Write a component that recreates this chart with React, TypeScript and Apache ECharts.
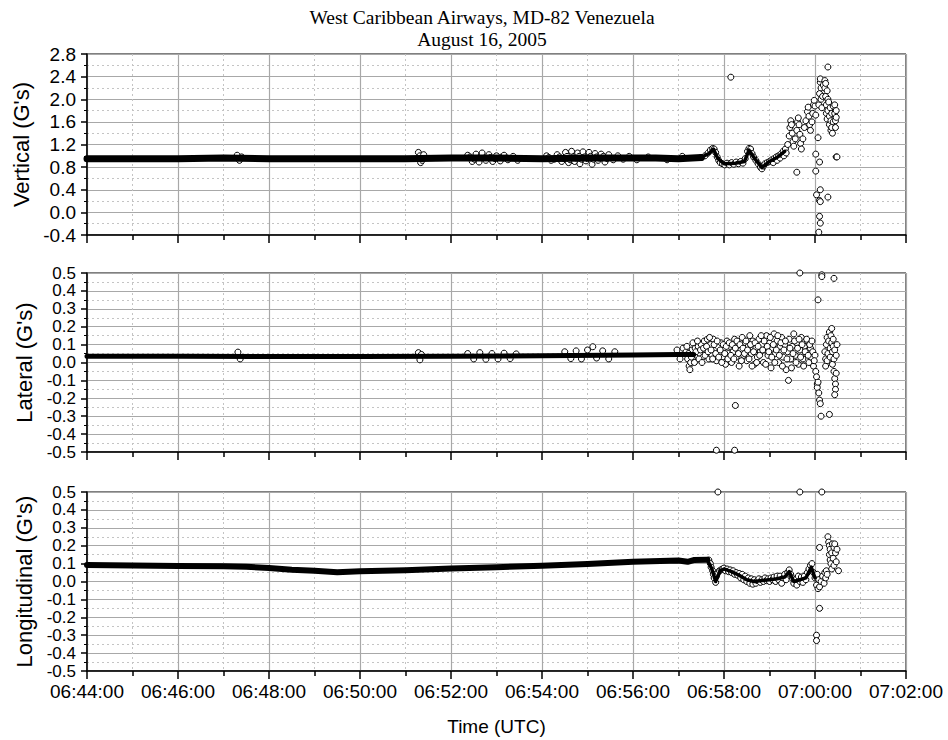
import React, { useEffect, useRef } from "react";
import * as echarts from "echarts";

// ---------- axis definitions ----------
const TIME_TICKS = ["06:44:00", "06:46:00", "06:48:00", "06:50:00", "06:52:00", "06:54:00", "06:56:00", "06:58:00", "07:00:00", "07:02:00"];
const VERTICAL_TICKS = [-0.4, 0.0, 0.4, 0.8, 1.2, 1.6, 2.0, 2.4, 2.8];
const LATERAL_TICKS = [-0.5, -0.4, -0.3, -0.2, -0.1, 0.0, 0.1, 0.2, 0.3, 0.4, 0.5];
const LONGITUDINAL_TICKS = [-0.5, -0.4, -0.3, -0.2, -0.1, 0.0, 0.1, 0.2, 0.3, 0.4, 0.5];

const TITLE_LINES = ["West Caribbean Airways, MD-82 Venezuela", "August 16, 2005"];
const PANEL_NAMES = ["Vertical (G's)", "Lateral (G's)", "Longitudinal (G's)"];
const X_NAME = "Time (UTC)";

type P = [string, number];

// ---------- Vertical ----------
const verticalBand: P[] = [
  ["06:44:00", 0.95], ["06:45:00", 0.95], ["06:46:00", 0.95], ["06:47:00", 0.96], ["06:48:00", 0.95],
  ["06:49:00", 0.95], ["06:50:00", 0.95], ["06:51:00", 0.95], ["06:52:00", 0.96], ["06:53:00", 0.96],
  ["06:54:00", 0.95], ["06:55:00", 0.96], ["06:56:00", 0.96], ["06:56:30", 0.96], ["06:57:00", 0.95],
  ["06:57:30", 0.97],
];
const verticalTrail: P[] = [
  ["06:57:30", 0.97], ["06:57:40", 1.04], ["06:57:46", 1.12], ["06:57:52", 0.95], ["06:58:00", 0.86],
  ["06:58:15", 0.87], ["06:58:27", 0.9], ["06:58:33", 1.1], ["06:58:40", 0.96], ["06:58:50", 0.79],
  ["06:59:00", 0.9], ["06:59:10", 0.97], ["06:59:20", 1.08],
];
const verticalPoints: P[] = [
  ["06:47:18", 1.01], ["06:47:21", 0.92], ["06:47:24", 0.98],
  ["06:51:17", 1.06], ["06:51:19", 1.0], ["06:51:20", 0.88], ["06:51:22", 0.92], ["06:51:24", 1.02],
  ["06:52:22", 1.01], ["06:52:25", 0.98], ["06:52:28", 0.9], ["06:52:31", 0.94], ["06:52:33", 1.03], ["06:52:37", 0.89],
  ["06:52:39", 0.99], ["06:52:41", 1.05], ["06:52:44", 0.96], ["06:52:46", 0.92], ["06:52:50", 1.02], ["06:52:52", 0.97],
  ["06:52:55", 0.9], ["06:52:58", 0.95], ["06:53:00", 1.0], ["06:53:05", 0.91], ["06:53:07", 0.98], ["06:53:10", 1.01],
  ["06:53:13", 0.96], ["06:53:15", 0.93], ["06:53:22", 0.99], ["06:53:28", 0.92],
  ["06:54:06", 1.0], ["06:54:09", 0.97], ["06:54:12", 0.92], ["06:54:16", 0.94], ["06:54:20", 1.02], ["06:54:23", 0.98],
  ["06:54:26", 0.9], ["06:54:29", 0.95], ["06:54:31", 1.06], ["06:54:33", 0.99], ["06:54:35", 0.88], ["06:54:37", 0.93],
  ["06:54:39", 1.08], ["06:54:41", 0.98], ["06:54:43", 0.9], ["06:54:45", 0.96], ["06:54:47", 1.05], ["06:54:49", 0.99],
  ["06:54:50", 0.86], ["06:54:52", 0.94], ["06:54:54", 1.07], ["06:54:56", 0.98], ["06:54:58", 0.91], ["06:55:00", 0.95],
  ["06:55:02", 1.06], ["06:55:04", 0.99], ["06:55:06", 0.85], ["06:55:08", 0.94], ["06:55:10", 1.04], ["06:55:12", 0.98],
  ["06:55:14", 0.92], ["06:55:16", 0.96], ["06:55:18", 1.03], ["06:55:21", 0.99], ["06:55:23", 0.89], ["06:55:26", 0.95],
  ["06:55:28", 1.02], ["06:55:34", 0.93], ["06:55:40", 1.0], ["06:55:47", 0.94], ["06:55:55", 0.99], ["06:56:05", 0.93],
  ["06:56:20", 0.98], ["06:56:45", 0.93], ["06:57:05", 0.99],
  ["06:57:30", 0.97], ["06:57:35", 1.0], ["06:57:39", 1.05], ["06:57:42", 1.1], ["06:57:45", 1.13], ["06:57:47", 1.12],
  ["06:57:49", 1.06], ["06:57:51", 0.98], ["06:57:53", 0.92], ["06:57:55", 0.88], ["06:57:58", 0.86], ["06:58:01", 0.84],
  ["06:58:04", 0.87], ["06:58:07", 0.84], ["06:58:10", 0.88], ["06:58:13", 0.85], ["06:58:16", 0.89], ["06:58:19", 0.86],
  ["06:58:22", 0.9], ["06:58:25", 0.87], ["06:58:28", 0.95], ["06:58:31", 1.08], ["06:58:33", 1.13], ["06:58:35", 1.12],
  ["06:58:37", 1.04], ["06:58:39", 0.98], ["06:58:42", 0.92], ["06:58:45", 0.86], ["06:58:48", 0.8], ["06:58:50", 0.77],
  ["06:58:52", 0.82], ["06:58:54", 0.86], ["06:58:57", 0.88], ["06:59:00", 0.9], ["06:59:03", 0.93], ["06:59:05", 0.88],
  ["06:59:06", 0.95], ["06:59:09", 0.98], ["06:59:10", 0.92], ["06:59:12", 1.0], ["06:59:14", 0.96], ["06:59:15", 1.03],
  ["06:59:18", 1.08], ["06:59:19", 1.0], ["06:59:21", 1.12], ["06:59:22", 1.05], ["06:59:24", 1.2], ["06:59:26", 1.35],
  ["06:59:27", 1.5], ["06:59:28", 1.62], ["06:59:29", 1.55], ["06:59:30", 1.4], ["06:59:31", 1.25], ["06:59:32", 1.17],
  ["06:59:34", 1.3], ["06:59:36", 1.45], ["06:59:37", 1.6], ["06:59:38", 1.67], ["06:59:39", 1.55], ["06:59:40", 1.38],
  ["06:59:41", 1.22], ["06:59:42", 1.12], ["06:59:44", 1.3], ["06:59:46", 1.5], ["06:59:48", 1.62], ["06:59:50", 1.78],
  ["06:59:51", 1.86], ["06:59:52", 1.7], ["06:59:53", 1.55], ["06:59:54", 1.45], ["06:59:56", 1.6], ["06:59:57", 1.75],
  ["06:59:58", 1.9], ["06:59:59", 1.98], ["07:00:00", 1.88], ["07:00:01", 1.72],
  ["06:58:09", 2.39], ["06:59:36", 0.71], ["07:00:01", 1.03], ["07:00:01", 0.73], ["07:00:02", 0.31], ["07:00:04", 1.32],
  ["07:00:06", 0.89], ["07:00:07", 0.4], ["07:00:06", 0.21], ["07:00:07", 0.19], ["07:00:06", -0.07], ["07:00:07", -0.19],
  ["07:00:05", -0.35], ["07:00:17", 0.27], ["07:00:17", 2.57], ["07:00:28", 0.98], ["07:00:29", 0.98],
  ["07:00:05", 1.9], ["07:00:06", 2.1], ["07:00:07", 2.3], ["07:00:07", 2.36], ["07:00:08", 2.2], ["07:00:08", 2.0],
  ["07:00:09", 1.85], ["07:00:10", 2.05], ["07:00:11", 2.25],
  ["07:00:13", 2.33], ["07:00:13", 2.2], ["07:00:14", 2.28], ["07:00:14", 2.05], ["07:00:15", 1.9], ["07:00:15", 1.75],
  ["07:00:16", 2.15], ["07:00:16", 1.65], ["07:00:17", 1.8], ["07:00:17", 2.0],
  ["07:00:18", 1.95], ["07:00:19", 1.7], ["07:00:19", 1.55], ["07:00:20", 1.85], ["07:00:21", 1.62], ["07:00:21", 1.45],
  ["07:00:22", 1.75], ["07:00:22", 1.5], ["07:00:23", 1.4], ["07:00:24", 1.6], ["07:00:24", 1.88],
  ["07:00:26", 1.9], ["07:00:26", 1.75], ["07:00:27", 1.62], ["07:00:27", 1.5], ["07:00:28", 1.8], ["07:00:28", 1.68],
];

// ---------- Lateral ----------
const lateralBand: P[] = [
  ["06:44:00", 0.035], ["06:46:00", 0.035], ["06:48:00", 0.033], ["06:50:00", 0.033], ["06:52:00", 0.035],
  ["06:54:00", 0.038], ["06:56:00", 0.042], ["06:57:00", 0.045], ["06:57:20", 0.045],
];
const lateralPoints: P[] = [
  ["06:47:19", 0.058], ["06:47:22", 0.02],
  ["06:51:17", 0.055], ["06:51:19", 0.015], ["06:51:21", 0.045],
  ["06:52:22", 0.05], ["06:52:30", 0.02], ["06:52:38", 0.055], ["06:52:46", 0.018], ["06:52:54", 0.05], ["06:53:02", 0.02],
  ["06:53:10", 0.052], ["06:53:18", 0.022], ["06:53:26", 0.048],
  ["06:54:30", 0.06], ["06:54:38", 0.022], ["06:54:45", 0.065], ["06:54:52", 0.02], ["06:55:00", 0.07], ["06:55:07", 0.088],
  ["06:55:12", 0.025], ["06:55:20", 0.065], ["06:55:28", 0.02], ["06:55:36", 0.06],
  ["06:56:58", 0.07], ["06:57:02", 0.02], ["06:57:06", 0.08], ["06:57:10", 0.06], ["06:57:12", 0.02], ["06:57:14", -0.02],
  ["06:57:15", -0.04], ["06:57:16", 0.0], ["06:57:18", 0.07], ["06:57:20", 0.03], ["06:57:22", 0.08], ["06:57:24", 0.04],
  ["06:57:26", 0.09], ["06:57:28", 0.05], ["06:57:30", 0.1], ["06:57:32", 0.03], ["06:57:34", 0.12], ["06:57:36", 0.06],
  ["06:57:38", 0.13], ["06:57:40", 0.02], ["06:57:42", 0.1], ["06:57:44", 0.04], ["06:57:46", 0.13], ["06:57:48", 0.07],
  ["06:57:50", 0.01], ["06:57:52", 0.09], ["06:57:54", 0.05], ["06:57:56", 0.11], ["06:57:58", 0.03], ["06:58:00", 0.08],
  ["06:58:02", -0.01], ["06:58:04", 0.12], ["06:58:06", 0.05], ["06:58:08", 0.09], ["06:58:10", 0.0], ["06:58:12", 0.06],
  ["06:58:14", 0.13], ["06:58:16", 0.03], ["06:58:18", 0.1], ["06:58:20", -0.02], ["06:58:22", 0.07], ["06:58:24", 0.14],
  ["06:58:26", 0.04], ["06:58:28", 0.11], ["06:58:30", 0.01], ["06:58:32", 0.09], ["06:58:34", 0.15], ["06:58:36", 0.05],
  ["06:58:38", 0.12], ["06:58:40", -0.01], ["06:58:42", 0.08], ["06:58:44", 0.03], ["06:58:46", 0.13], ["06:58:48", 0.06],
  ["06:58:50", 0.1], ["06:58:52", 0.0], ["06:58:54", 0.07], ["06:58:56", 0.15], ["06:58:58", 0.04], ["06:59:00", 0.11],
  ["06:59:02", -0.03], ["06:59:04", 0.08], ["06:59:06", 0.16], ["06:59:08", 0.05], ["06:59:10", 0.12], ["06:59:12", 0.0],
  ["06:59:14", 0.09], ["06:59:16", 0.14], ["06:59:18", 0.03], ["06:59:20", 0.1], ["06:59:22", -0.04], ["06:59:24", 0.06],
  ["06:59:25", -0.1], ["06:59:26", 0.13], ["06:59:28", 0.02], ["06:59:30", 0.09], ["06:59:32", 0.16], ["06:59:34", 0.04],
  ["06:59:36", 0.11], ["06:59:38", -0.01], ["06:59:40", 0.07], ["06:59:42", 0.14], ["06:59:44", 0.02], ["06:59:46", 0.09],
  ["06:59:48", 0.05], ["06:59:50", 0.12], ["06:59:52", 0.0], ["06:59:54", 0.08], ["06:59:55", 0.03], ["06:59:57", 0.06],
  ["06:59:58", -0.02], ["07:00:00", 0.04],
  ["06:57:11", 0.09], ["06:57:13", 0.05], ["06:57:17", 0.03], ["06:57:19", 0.11], ["06:57:21", 0.0], ["06:57:23", 0.06],
  ["06:57:25", 0.12], ["06:57:27", 0.02], ["06:57:29", 0.07], ["06:57:31", 0.0], ["06:57:33", 0.08], ["06:57:35", 0.04],
  ["06:57:37", 0.09], ["06:57:39", 0.06], ["06:57:41", 0.14], ["06:57:43", 0.07], ["06:57:45", 0.02], ["06:57:47", 0.1],
  ["06:57:49", 0.05], ["06:57:51", 0.12], ["06:57:53", 0.03], ["06:57:55", 0.07], ["06:57:57", 0.0], ["06:57:59", 0.1],
  ["06:58:01", 0.05], ["06:58:03", 0.09], ["06:58:05", 0.02], ["06:58:07", 0.11], ["06:58:09", 0.04], ["06:58:11", 0.1],
  ["06:58:13", 0.02], ["06:58:15", 0.08], ["06:58:17", 0.12], ["06:58:19", 0.05], ["06:58:21", 0.1], ["06:58:23", 0.01],
  ["06:58:25", 0.08], ["06:58:27", 0.05], ["06:58:29", 0.12], ["06:58:31", 0.07], ["06:58:33", 0.02], ["06:58:35", 0.1],
  ["06:58:37", -0.02], ["06:58:39", 0.06], ["06:58:41", 0.11], ["06:58:43", 0.0], ["06:58:45", 0.09], ["06:58:47", 0.04],
  ["06:58:49", 0.15], ["06:58:51", 0.07], ["06:58:53", 0.12], ["06:58:55", -0.01], ["06:58:57", 0.09], ["06:58:59", 0.06],
  ["06:59:01", 0.14], ["06:59:03", 0.03], ["06:59:05", 0.1], ["06:59:07", 0.0], ["06:59:09", 0.07], ["06:59:11", 0.15],
  ["06:59:13", 0.04], ["06:59:15", 0.11], ["06:59:17", -0.02], ["06:59:19", 0.07], ["06:59:21", 0.12], ["06:59:23", 0.02],
  ["06:59:27", 0.08], ["06:59:29", -0.03], ["06:59:31", 0.05], ["06:59:33", 0.12], ["06:59:35", 0.0], ["06:59:37", 0.08],
  ["06:59:39", 0.13], ["06:59:41", 0.03], ["06:59:43", 0.1], ["06:59:45", -0.02], ["06:59:47", 0.06], ["06:59:49", 0.13],
  ["06:59:51", 0.04], ["06:59:53", 0.1], ["06:59:56", 0.12], ["06:59:59", 0.01],
  ["07:00:01", -0.05], ["07:00:02", -0.08], ["07:00:03", -0.12], ["07:00:03", -0.14],
  ["07:00:04", -0.11], ["07:00:05", -0.17], ["07:00:06", -0.21], ["07:00:07", -0.23], ["07:00:08", -0.3],
  ["07:00:04", 0.35], ["07:00:09", 0.49], ["07:00:09", 0.48], ["07:00:25", 0.47], ["06:59:40", 0.5],
  ["06:57:50", -0.49], ["06:58:14", -0.49], ["06:58:15", -0.24],
  ["07:00:13", 0.06], ["07:00:14", 0.02], ["07:00:14", -0.02], ["07:00:15", 0.1], ["07:00:16", 0.14], ["07:00:16", 0.01],
  ["07:00:17", 0.05], ["07:00:19", -0.29], ["07:00:18", 0.12], ["07:00:19", 0.17], ["07:00:20", 0.08], ["07:00:20", 0.03],
  ["07:00:21", 0.15], ["07:00:22", 0.19], ["07:00:22", 0.11], ["07:00:23", 0.06], ["07:00:23", -0.01], ["07:00:24", 0.09],
  ["07:00:24", 0.13], ["07:00:25", 0.02], ["07:00:25", -0.05], ["07:00:26", -0.09], ["07:00:26", 0.07], ["07:00:27", -0.12],
  ["07:00:27", -0.15], ["07:00:26", -0.18], ["07:00:28", 0.04], ["07:00:28", -0.06], ["07:00:29", 0.1],
];

// ---------- Longitudinal ----------
const longitudinalBand: P[] = [
  ["06:44:00", 0.092], ["06:45:00", 0.09], ["06:46:00", 0.087], ["06:47:00", 0.085], ["06:47:30", 0.082],
  ["06:48:00", 0.075], ["06:48:30", 0.066], ["06:49:00", 0.06], ["06:49:30", 0.052], ["06:50:00", 0.057],
  ["06:51:00", 0.063], ["06:52:00", 0.072], ["06:53:00", 0.08], ["06:54:00", 0.088], ["06:55:00", 0.098],
  ["06:56:00", 0.11], ["06:57:00", 0.117], ["06:57:12", 0.11], ["06:57:20", 0.12], ["06:57:38", 0.122],
];
const longitudinalTrail: P[] = [
  ["06:57:38", 0.122], ["06:57:44", 0.07], ["06:57:49", 0.0], ["06:57:55", 0.06], ["06:58:00", 0.07],
  ["06:58:10", 0.055], ["06:58:20", 0.035], ["06:58:30", 0.01], ["06:58:40", 0.0], ["06:58:50", 0.005],
  ["06:59:00", 0.01], ["06:59:10", 0.015], ["06:59:20", 0.025], ["06:59:26", 0.055], ["06:59:32", 0.0],
  ["06:59:40", 0.01], ["06:59:48", 0.02], ["06:59:55", 0.08], ["07:00:00", 0.02],
];
const longitudinalPoints: P[] = [
  ["06:57:40", 0.12], ["06:57:42", 0.1], ["06:57:43", 0.08], ["06:57:45", 0.06], ["06:57:46", 0.04], ["06:57:47", 0.02],
  ["06:57:49", -0.005], ["06:57:50", 0.03], ["06:57:52", 0.05], ["06:57:54", 0.06], ["06:57:56", 0.065], ["06:57:58", 0.07],
  ["06:58:00", 0.075], ["06:58:02", 0.06], ["06:58:04", 0.07], ["06:58:06", 0.055], ["06:58:08", 0.065], ["06:58:10", 0.05],
  ["06:58:12", 0.06], ["06:58:14", 0.04], ["06:58:16", 0.05], ["06:58:18", 0.035], ["06:58:20", 0.045], ["06:58:22", 0.02],
  ["06:58:24", 0.04], ["06:58:26", 0.01], ["06:58:28", 0.03], ["06:58:30", 0.0], ["06:58:32", 0.02], ["06:58:34", -0.01],
  ["06:58:36", 0.015], ["06:58:38", -0.015], ["06:58:40", 0.01], ["06:58:42", -0.01], ["06:58:44", 0.005], ["06:58:46", 0.015],
  ["06:58:48", -0.005], ["06:58:50", 0.01], ["06:58:52", 0.0], ["06:58:54", 0.02], ["06:58:56", 0.005], ["06:58:58", 0.015],
  ["06:59:00", 0.0], ["06:59:02", 0.02], ["06:59:04", 0.01], ["06:59:06", 0.025], ["06:59:08", 0.0], ["06:59:10", 0.03],
  ["06:59:12", 0.01], ["06:59:14", 0.03], ["06:59:16", -0.01], ["06:59:18", 0.02], ["06:59:20", 0.04], ["06:59:22", 0.01],
  ["06:59:24", 0.05], ["06:59:26", 0.065], ["06:59:28", 0.04], ["06:59:30", 0.02], ["06:59:32", -0.01], ["06:59:34", 0.01],
  ["06:59:36", -0.02], ["06:59:38", 0.03], ["06:59:40", 0.0], ["06:59:42", 0.025], ["06:59:44", -0.005], ["06:59:46", 0.03],
  ["06:59:48", 0.01], ["06:59:50", 0.05], ["06:59:52", 0.07], ["06:59:54", 0.09], ["06:59:56", 0.1], ["06:59:58", 0.05],
  ["07:00:00", 0.02], ["07:00:02", -0.02], ["07:00:03", 0.04], ["07:00:04", -0.04], ["07:00:05", 0.01], ["07:00:06", -0.03],
  ["07:00:08", 0.0], ["07:00:10", 0.03], ["07:00:12", -0.01], ["07:00:13", 0.05], ["07:00:14", 0.02], ["07:00:15", 0.06],
  ["07:00:16", 0.04],
  ["07:00:02", -0.3], ["07:00:02", -0.33], ["07:00:06", -0.15], ["07:00:06", 0.19], ["06:57:52", 0.5], ["06:59:40", 0.5],
  ["07:00:09", 0.5],
  ["07:00:17", 0.25], ["07:00:18", 0.22], ["07:00:19", 0.2], ["07:00:19", 0.15], ["07:00:20", 0.12], ["07:00:20", 0.18],
  ["07:00:21", 0.1], ["07:00:22", 0.16], ["07:00:22", 0.07], ["07:00:23", 0.21], ["07:00:24", 0.13], ["07:00:25", 0.19],
  ["07:00:25", 0.09], ["07:00:26", 0.21], ["07:00:27", 0.16], ["07:00:28", 0.11], ["07:00:29", 0.18], ["07:00:31", 0.06],
];

// ---------- helpers ----------
const clock = (s: string) => {
  const [h, m, sec] = s.split(":").map(Number);
  return h * 3600 + m * 60 + sec;
};
const T0 = clock(TIME_TICKS[0]);
const T1 = clock(TIME_TICKS[TIME_TICKS.length - 1]);
const toXY = (arr: P[]) => arr.map(([t, v]) => [clock(t) - T0, v]);
const pad = (n: number) => String(n).padStart(2, "0");
const fmtTime = (v: number) => {
  const s = Math.round(v + T0);
  return `${pad(Math.floor(s / 3600))}:${pad(Math.floor((s % 3600) / 60))}:${pad(s % 60)}`;
};
const fmtVal = (v: number) => (Math.abs(v) < 1e-9 ? "0.0" : v.toFixed(1));

const SANS = "'Liberation Sans', Arial, sans-serif";
const SERIF = "'Liberation Serif', 'Times New Roman', serif";

export default function App() {
  const ref = useRef<HTMLDivElement>(null);
  useEffect(() => {
    if (!ref.current) return;
    const chart = echarts.init(ref.current, undefined, { renderer: "svg" });
    const grids = [
      { top: 54, height: 181 },
      { top: 273, height: 179 },
      { top: 492, height: 179 },
    ];
    const yTicks = [VERTICAL_TICKS, LATERAL_TICKS, LONGITUDINAL_TICKS];
    const labelSizes = [19, 17, 17];
    const bands = [verticalBand, lateralBand, longitudinalBand];
    const trails: [number, P[]][] = [[0, verticalTrail], [2, longitudinalTrail]];
    const points = [verticalPoints, lateralPoints, longitudinalPoints];
    const bandWidths = [7, 5, 6];

    const option: any = {
      animation: false,
      backgroundColor: "#fff",
      grid: grids.map((g) => ({
        left: 87,
        right: 42,
        top: g.top,
        height: g.height,
        show: true,
        borderColor: "#000",
        borderWidth: 1,
        backgroundColor: "transparent",
      })),
      graphic: TITLE_LINES.map((line, i) => ({
        type: "text",
        x: 482,
        y: 17 + i * 22,
        style: {
          text: line,
          fill: "#000",
          font: `19.5px ${SERIF}`,
          textAlign: "center",
          textVerticalAlign: "middle",
        },
      })),
      xAxis: grids.map((_, i) => ({
        type: "value",
        gridIndex: i,
        min: 0,
        max: T1 - T0,
        interval: 120,
        axisLine: { show: true, onZero: false, lineStyle: { color: "#000", width: 1.5 } },
        axisTick: { show: true, inside: false, length: 8, lineStyle: { color: "#000", width: 1.5 } },
        minorTick: { show: true, splitNumber: 2, length: 5, lineStyle: { color: "#000", width: 1.5 } },
        splitLine: { show: true, lineStyle: { color: "#a8a8a8", width: 1.2 } },
        minorSplitLine: { show: true, lineStyle: { color: "#c4c4c4", width: 1, type: [2, 3] } },
        axisLabel: {
          show: i === 2,
          formatter: fmtTime,
          color: "#000",
          fontSize: 19,
          fontFamily: SANS,
          margin: 11,
          showMinLabel: true,
          showMaxLabel: true,
        },
        name: i === 2 ? X_NAME : "",
        nameLocation: "middle",
        nameGap: 46,
        nameTextStyle: { color: "#000", fontSize: 19, fontFamily: SANS },
      })),
      yAxis: grids.map((_, i) => {
        const ticks = yTicks[i];
        return {
          type: "value",
          gridIndex: i,
          min: ticks[0],
          max: ticks[ticks.length - 1],
          interval: Math.round((ticks[1] - ticks[0]) * 10) / 10,
          axisLine: { show: true, onZero: false, lineStyle: { color: "#000", width: 1.5 } },
          axisTick: { show: true, inside: false, length: 6, lineStyle: { color: "#000", width: 1.5 } },
          minorTick: { show: true, splitNumber: 2, length: 3, lineStyle: { color: "#000", width: 1 } },
          splitLine: { show: true, lineStyle: { color: "#a8a8a8", width: 1.2 } },
          minorSplitLine: { show: true, lineStyle: { color: "#c4c4c4", width: 1, type: [2, 3] } },
          axisLabel: {
            formatter: fmtVal,
            color: "#000",
            fontSize: labelSizes[i],
            fontFamily: SANS,
            margin: 11,
            lineHeight: labelSizes[i],
            showMinLabel: true,
            showMaxLabel: true,
          },
          name: PANEL_NAMES[i],
          nameLocation: "middle",
          nameGap: 50,
          nameTextStyle: { color: "#000", fontSize: 22, fontFamily: SANS },
        };
      }),
      series: [
        ...points.map((p, i) => ({
          type: "scatter",
          xAxisIndex: i,
          yAxisIndex: i,
          data: toXY(p),
          symbol: "circle",
          symbolSize: 6,
          itemStyle: { color: "#fff", borderColor: "#000", borderWidth: 1, opacity: 1 },
          z: 3,
        })),
        ...bands.map((b, i) => ({
          type: "line",
          xAxisIndex: i,
          yAxisIndex: i,
          data: toXY(b),
          showSymbol: false,
          symbol: "none",
          lineStyle: { color: "#000", width: bandWidths[i], cap: "round", join: "round" },
          z: 4,
        })),
        ...trails.map(([i, t]) => ({
          type: "line",
          xAxisIndex: i,
          yAxisIndex: i,
          data: toXY(t),
          showSymbol: false,
          symbol: "none",
          lineStyle: { color: "#000", width: 3.5, cap: "round", join: "round" },
          z: 4,
        })),
      ],
    };
    chart.setOption(option);
    return () => chart.dispose();
  }, []);
  return <div ref={ref} style={{ width: 948, height: 740, position: "absolute", left: 0, top: 0 }} />;
}
